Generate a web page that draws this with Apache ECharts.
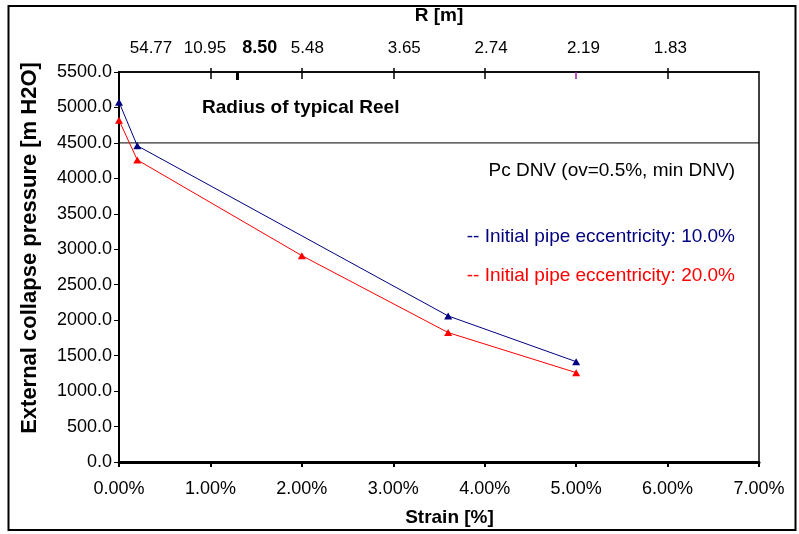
<!DOCTYPE html>
<html>
<head>
<meta charset="utf-8">
<script src="https://cdn.jsdelivr.net/npm/echarts@6/dist/echarts.min.js"></script>
<style>
  html, body { margin: 0; padding: 0; background: #fff; }
  #chart { width: 799px; height: 534px; }
</style>
</head>
<body>
<div id="chart"></div>
<script>
// Collapse pressure vs. bending strain, two initial eccentricities
const strainBlue = [0, 0.2, 3.6, 5.0];
const pressureBlue = [5075, 4460, 2060, 1415];
const strainRed = [0, 0.2, 2.0, 3.6, 5.0];
const pressureRed = [4820, 4260, 2910, 1825, 1260];

// DNV collapse pressure reference level
const pcDnv = 4500;

// Bottom axis (strain, %) and left axis (pressure)
const strainMin = 0, strainMax = 7, strainStep = 1;
const pressureMin = 0, pressureMax = 5500, pressureStep = 500;

// Top axis: reel radius R [m] corresponding to strain
const rTicks = [1, 2, 3, 4, 6];
const rTickReel = [1.288];
const rTickMarked = [5];
const rLabelPos = [0.35, 0.94, 1.54, 2.06, 3.12, 4.07, 5.08, 6.03];
const rLabels = ['54.77', '10.95', '8.50', '5.48', '3.65', '2.74', '2.19', '1.83'];
const rLabelBold = '8.50';

const FONT = '"Liberation Sans", Arial, sans-serif';

const pairs = (xs, ys) => xs.map((x, i) => [x, ys[i]]);

function rFormatter(v) {
  const i = rLabelPos.findIndex(p => Math.abs(p - v) < 1e-6);
  if (i < 0) return '';
  return rLabels[i] === rLabelBold ? '{b|' + rLabels[i] + '}' : rLabels[i];
}

// Plot rectangle shared by the main grid and the overlay grids
const plotRect = { left: 119, right: 40, top: 72, bottom: 72 };

// Overlay top axis that only draws a set of ticks
function tickOnlyAxis(gridIndex, values, tickStyle, length, inside) {
  return {
    type: 'value', gridIndex, position: 'top', min: strainMin, max: strainMax,
    axisLine: { show: false, onZero: false }, splitLine: { show: false },
    axisLabel: { show: false },
    axisTick: { show: true, inside, length, customValues: values, lineStyle: tickStyle }
  };
}
function hiddenY(gridIndex) {
  return { type: 'value', gridIndex, min: pressureMin, max: pressureMax, show: false };
}

const chart = echarts.init(document.getElementById('chart'), null, { renderer: 'canvas' });

chart.setOption({
  animation: false,
  backgroundColor: '#fff',
  textStyle: { fontFamily: FONT },
  grid: [
    Object.assign({ show: true, borderColor: '#000', borderWidth: 1.5, backgroundColor: 'transparent' }, plotRect),
    Object.assign({ show: false }, plotRect),
    Object.assign({ show: false }, plotRect),
    Object.assign({ show: false }, plotRect),
    Object.assign({ show: false }, plotRect)
  ],
  xAxis: [
    {
      type: 'value', gridIndex: 0, position: 'bottom',
      min: strainMin, max: strainMax, interval: strainStep,
      name: 'Strain [%]', nameLocation: 'middle', nameGap: 46,
      nameTextStyle: { fontFamily: FONT, fontSize: 19, fontWeight: 'bold', color: '#000', padding: [0, 0, 0, 21] },
      axisLine: { show: true, onZero: false, lineStyle: { color: '#000', width: 3 } },
      axisTick: { show: true, inside: false, length: 5, lineStyle: { color: '#000', width: 2 } },
      axisLabel: {
        margin: 18, fontFamily: FONT, fontSize: 18, color: '#000',
        formatter: v => v.toFixed(2) + '%'
      },
      splitLine: { show: false }
    },
    {
      type: 'value', gridIndex: 0, position: 'top',
      min: strainMin, max: strainMax,
      name: 'R [m]', nameLocation: 'middle', nameGap: 47,
      nameTextStyle: { fontFamily: FONT, fontSize: 19, fontWeight: 'bold', color: '#000' },
      axisLine: { show: true, onZero: false, lineStyle: { color: '#000', width: 1.5 } },
      axisTick: { show: false },
      axisLabel: {
        show: true, margin: 15, fontFamily: FONT, fontSize: 17, color: '#000',
        customValues: rLabelPos, formatter: rFormatter,
        rich: { b: { fontFamily: FONT, fontSize: 18, fontWeight: 'bold', color: '#000' } }
      },
      splitLine: { show: false }
    },
    // inner and outer parts of the R ticks, which cross the axis line
    tickOnlyAxis(1, rTicks, { color: '#000', width: 1.5 }, 7, true),
    tickOnlyAxis(2, rTicks, { color: '#000', width: 1.5 }, 4, false),
    tickOnlyAxis(3, rTickReel, { color: '#000', width: 3 }, 8, true),
    tickOnlyAxis(4, rTickMarked, { color: '#a020a0', width: 1.5 }, 7, true)
  ],
  yAxis: [
    {
      type: 'value', gridIndex: 0, min: pressureMin, max: pressureMax, interval: pressureStep,
      name: 'External collapse pressure [m H2O]', nameLocation: 'middle', nameGap: 78,
      nameTextStyle: { fontFamily: FONT, fontSize: 22, fontWeight: 'bold', color: '#000', padding: [0, 0, 0, 38] },
      axisLine: { show: true, onZero: false, lineStyle: { color: '#000', width: 2 } },
      axisTick: { show: true, inside: false, length: 5, lineStyle: { color: '#000', width: 1 } },
      axisLabel: { margin: 7, fontFamily: FONT, fontSize: 18, color: '#000', formatter: v => v.toFixed(1) },
      splitLine: { show: false }
    },
    hiddenY(1),
    hiddenY(2),
    hiddenY(3),
    hiddenY(4)
  ],
  series: [
    {
      name: 'Pc DNV', type: 'line', xAxisIndex: 0, yAxisIndex: 0,
      data: [[strainMin, pcDnv], [strainMax, pcDnv]],
      showSymbol: false, symbol: 'none',
      lineStyle: { color: '#000', width: 1 }, silent: true, z: 1
    },
    {
      name: 'Initial pipe eccentricity: 10.0%', type: 'line', xAxisIndex: 0, yAxisIndex: 0,
      data: pairs(strainBlue, pressureBlue),
      symbol: 'triangle', symbolSize: [8, 7], clip: false,
      itemStyle: { color: '#000080' },
      lineStyle: { color: '#000080', width: 1 }, z: 3
    },
    {
      name: 'Initial pipe eccentricity: 20.0%', type: 'line', xAxisIndex: 0, yAxisIndex: 0,
      data: pairs(strainRed, pressureRed),
      symbol: 'triangle', symbolSize: [8, 7], clip: false,
      itemStyle: { color: '#ff0000' },
      lineStyle: { color: '#ff0000', width: 1 }, z: 3
    }
  ],
  graphic: [
    {
      type: 'rect', silent: true, z: -1,
      shape: { x: 8.5, y: 6, width: 787, height: 524 },
      style: { fill: 'none', stroke: '#000', lineWidth: 2 }
    },
    {
      type: 'text', x: 202, y: 108, silent: true,
      style: { text: 'Radius of typical Reel', font: 'bold 19px ' + FONT, fill: '#000', textAlign: 'left', textVerticalAlign: 'middle' }
    },
    {
      type: 'text', x: 735, y: 171, silent: true,
      style: { text: 'Pc DNV (ov=0.5%, min DNV)', font: '19px ' + FONT, fill: '#000', textAlign: 'right', textVerticalAlign: 'middle' }
    },
    {
      type: 'text', x: 735, y: 237, silent: true,
      style: { text: '-- Initial pipe eccentricity: 10.0%', font: '19px ' + FONT, fill: '#000080', textAlign: 'right', textVerticalAlign: 'middle' }
    },
    {
      type: 'text', x: 735, y: 276, silent: true,
      style: { text: '-- Initial pipe eccentricity: 20.0%', font: '19px ' + FONT, fill: '#ff0000', textAlign: 'right', textVerticalAlign: 'middle' }
    }
  ]
});
</script>
</body>
</html>
